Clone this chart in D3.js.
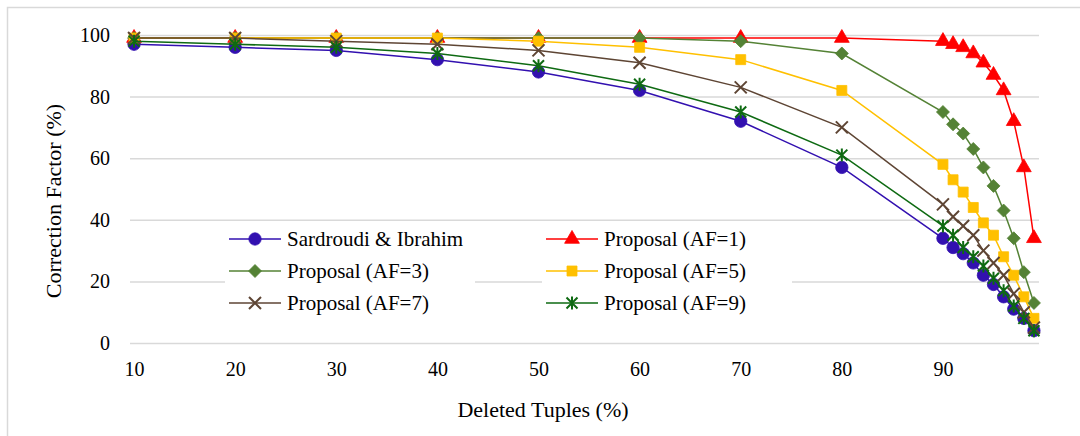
<!DOCTYPE html>
<html>
<head>
<meta charset="utf-8">
<script src="https://cdn.jsdelivr.net/npm/d3@7"></script>
<style>
  html, body { margin: 0; padding: 0; background: #fff; }
  svg { display: block; }
  svg text { font-family: "Liberation Serif", "Tinos", "Times New Roman", "DejaVu Serif", serif !important; fill: #000; }
</style>
</head>
<body>
<svg id="chart" width="1080" height="436"></svg>
<script>
// ---- data ----
const deletedTuples = [10, 20, 30, 40, 50, 60, 70, 80, 90, 91, 92, 93, 94, 95, 96, 97, 98, 99];
const sardroudi = [97, 96, 95, 92, 88, 82, 72, 57, 34, 31, 29, 26, 22, 19, 15, 11, 8, 4];
const af1 = [99, 99, 99, 99, 99, 99, 99, 99, 98, 97, 96, 94, 91, 87, 82, 72, 57, 34];
const af3 = [99, 99, 99, 99, 99, 99, 98, 94, 75, 71, 68, 63, 57, 51, 43, 34, 23, 13];
const af5 = [99, 99, 99, 99, 98, 96, 92, 82, 58, 53, 49, 44, 39, 35, 28, 22, 15, 8];
const af7 = [99, 99, 98, 97, 95, 91, 83, 70, 45, 41, 38, 35, 30, 26, 22, 16, 10, 5];
const af9 = [98, 97, 96, 94, 90, 84, 75, 61, 38, 35, 31, 28, 25, 21, 17, 12, 8, 4];
const seriesNames = ["Sardroudi & Ibrahim", "Proposal (AF=1)", "Proposal (AF=3)", "Proposal (AF=5)", "Proposal (AF=7)", "Proposal (AF=9)"];
const yTicks = [0, 20, 40, 60, 80, 100];
const xTicks = [10, 20, 30, 40, 50, 60, 70, 80, 90];
const xTitle = "Deleted Tuples (%)";
const yTitle = "Correction Factor (%)";

// ---- styles ----
const styles = [
  { color: "#3210B0", marker: "circle" },
  { color: "#FF0000", marker: "triangle" },
  { color: "#548235", marker: "diamond" },
  { color: "#FFC000", marker: "square" },
  { color: "#5E4534", marker: "x" },
  { color: "#0E6A12", marker: "star" }
];
const allValues = [sardroudi, af1, af3, af5, af7, af9];
const series = seriesNames.map((name, i) => ({
  name, ...styles[i],
  points: deletedTuples.map((x, j) => ({ x, y: allValues[i][j] }))
}));

const FONT = '"Liberation Serif", "Tinos", "Times New Roman", "DejaVu Serif", serif';
const svg = d3.select("#chart");
// chart border (only top/left visible in the frame)
svg.append("rect").attr("x", 7.5).attr("y", 7.5).attr("width", 1200).attr("height", 600)
  .attr("fill", "#fff").attr("stroke", "#D9D9D9").attr("stroke-width", 1.5);

const x = d3.scaleLinear().domain([9.6, 99.5]).range([130, 1039]);
const y = d3.scaleLinear().domain([0, 100]).range([343, 35]);

// gridlines
const yAxis = d3.axisLeft(y).tickValues(yTicks).tickSize(-(x.range()[1] - x.range()[0])).tickPadding(20);
const gy = svg.append("g").attr("transform", `translate(${x.range()[0]},0)`).call(yAxis);
gy.attr("font-family", FONT);
gy.select(".domain").remove();
gy.selectAll(".tick line").attr("stroke", "#D9D9D9").attr("stroke-width", 1.5);
gy.selectAll(".tick text").attr("font-size", 20).attr("fill", "#000");

const xAxis = d3.axisBottom(x).tickValues(xTicks).tickSize(0).tickPadding(19);
const gx = svg.append("g").attr("transform", `translate(0,${y(0)})`).call(xAxis);
gx.attr("font-family", FONT);
gx.select(".domain").remove();
gx.selectAll(".tick text").attr("font-size", 20).attr("fill", "#000");

// axis titles
svg.append("text").attr("x", 543).attr("y", 417).attr("text-anchor", "middle")
  .attr("font-size", 22).attr("font-family", FONT).text(xTitle);
svg.append("text").attr("transform", "translate(61,201) rotate(-90)").attr("text-anchor", "middle")
  .attr("font-size", 22).attr("font-family", FONT).text(yTitle);

// marker symbols
function markerPath(type) {
  switch (type) {
    case "circle": return d3.symbol(d3.symbolCircle, 120)();
    case "triangle": return d3.symbol(d3.symbolTriangle, 95)();
    case "diamond": return "M0,-6.5L6.5,0L0,6.5L-6.5,0Z";
    case "square": return "M-5,-5H5V5H-5Z";
    case "x": return "M-6,-6L6,6M-6,6L6,-6";
    case "star": return "M-5.5,-5.5L5.5,5.5M-5.5,5.5L5.5,-5.5M0,-6.5V6.5";
  }
}
function drawMarker(g, s) {
  const open = s.marker === "x" || s.marker === "star";
  g.append("path").attr("d", markerPath(s.marker))
    .attr("fill", open ? "none" : s.color)
    .attr("stroke", s.color)
    .attr("stroke-width", open ? 2 : 0.8);
}

const line = d3.line().x(d => x(d.x)).y(d => y(d.y));
series.forEach(s => {
  const g = svg.append("g");
  g.append("path").datum(s.points).attr("d", line)
    .attr("fill", "none").attr("stroke", s.color).attr("stroke-width", 1.5);
  g.selectAll("g.m").data(s.points).enter().append("g")
    .attr("transform", d => `translate(${x(d.x)},${y(d.y)})`)
    .each(function () { drawMarker(d3.select(this), s); });
});

// legend
const legendCols = [229, 546];
const legendRows = [239, 271, 303];
series.forEach((s, i) => {
  const lx = legendCols[i % 2], ly = legendRows[Math.floor(i / 2)];
  const g = svg.append("g").attr("transform", `translate(${lx},${ly})`);
  g.append("rect").attr("x", -4).attr("y", -14).attr("width", 250).attr("height", 28).attr("fill", "#fff");
  g.append("line").attr("x1", 0).attr("x2", 52).attr("y1", 0).attr("y2", 0)
    .attr("stroke", s.color).attr("stroke-width", 1.5);
  const m = g.append("g").attr("transform", "translate(26,0)");
  drawMarker(m, s);
  g.append("text").attr("x", 58).attr("y", 0).attr("dy", "0.35em")
    .attr("font-size", 21).attr("font-family", FONT).text(s.name);
});
</script>
</body>
</html>
